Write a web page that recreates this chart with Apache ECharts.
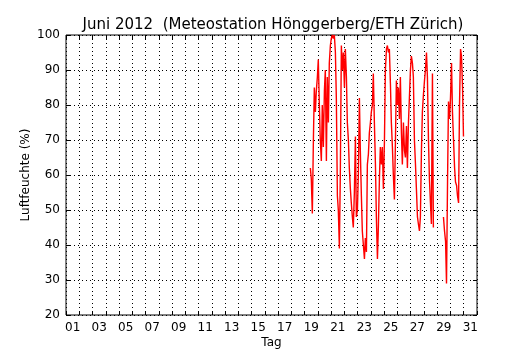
<!DOCTYPE html>
<html>
<head>
<meta charset="utf-8">
<script src="https://cdn.jsdelivr.net/npm/echarts@6/dist/echarts.min.js"></script>
<style>html,body{margin:0;padding:0;background:#fff}#c{width:530px;height:350px}</style>
</head>
<body>
<div id="c"></div>
<script>
// Day labels (June 2012)
var tagLabels = ['01','02','03','04','05','06','07','08','09','10','11','12','13','14','15','16','17','18','19','20','21','22','23','24','25','26','27','28','29','30','31'];
var yTicks = [20,30,40,50,60,70,80,90,100];
// time in days (1 = 1 June 00:00) and relative humidity (%)
var tag = [19.43,19.50,19.58,19.66,19.73,19.81,19.88,19.96,20.03,20.11,20.18,20.26,20.33,20.41,20.49,20.56,20.64,20.71,20.79,20.86,20.94,21.01,21.09,21.16,21.24,21.32,21.39,21.47,21.54,21.62,21.69,21.77,21.84,21.92,22.00,22.07,22.15,22.22,22.30,22.37,22.45,22.52,22.60,22.67,22.75,22.83,22.90,22.98,23.05,23.13,23.20,23.28,23.35,23.43,23.51,23.58,23.66,23.73,23.81,23.88,23.96,24.03,24.11,24.18,24.26,24.34,24.41,24.49,24.56,24.64,24.71,24.79,24.86,24.94,25.02,25.09,25.17,25.24,25.32,25.39,25.47,25.54,25.62,25.69,25.77,25.85,25.92,26.00,26.07,26.15,26.22,26.30,26.37,26.45,26.53,26.60,26.68,26.75,26.83,26.90,26.98,27.05,27.13,27.20,27.28,27.36,27.43,27.51,27.58,27.66,27.73,27.81,27.88,27.96,28.04,28.11,28.19,28.26,28.34,28.41,28.49,28.56,28.64,28.71,29.10,29.47,29.55,29.63,29.70,29.78,29.85,29.93,30.00,30.08,30.15,30.23,30.31,30.38,30.46,30.53,30.61,30.68,30.76,30.83,30.91,30.98];
var feuchte = [62,59,49,70,85,78,84,88,93,80,70,64,80,68,84,90,64,88,75,92,97,99,100,99,100,95,82,54,50,39,60,97,90,95,85,96,88,75,70,62,56,52,48,45,55,71,48,50,60,82,67,54,44,40,36,42,38,63,66,72,75,78,80,89,75,63,48,36,45,59,68,63,68,56,70,90,96,97,95,96,86,75,68,60,53,70,87,80,85,76,88,72,63,75,67,65,74,62,75,82,90,94,92,88,70,63,56,48,46,44,48,67,78,83,87,90,95,88,70,59,52,46,89,45,null,48,44,41,29,59,81,76,82,92,78,70,62,58,57,54,52,80,96,94,85,71];

var seriesData = tag.map(function(t,i){ return [t, feuchte[i]===null ? '-' : feuchte[i]]; });

var chart = echarts.init(document.getElementById('c'), null, {renderer:'canvas'});
var font = 'DejaVu Sans';
var dotted = {color:'#000', width:1, type:[1,3]};
chart.setOption({
  animation:false,
  backgroundColor:'#fff',
  title:{text:'Juni 2012  (Meteostation Hönggerberg/ETH Zürich)', left:268, top:13, textAlign:'center',
    textStyle:{fontFamily:font, fontSize:15, fontWeight:'normal', color:'#000'}},
  grid:{left:66, right:53, top:35, bottom:35, containLabel:false, outerBoundsMode:'none',
    show:true, borderColor:'#000', borderWidth:1, backgroundColor:'transparent'},
  xAxis:[
    {type:'category', data:tagLabels, boundaryGap:true, position:'bottom',
     axisLine:{show:false},
     axisTick:{show:true, inside:true, length:4, interval:0, lineStyle:{color:'#000'}},
     axisLabel:{interval:1, color:'#000', fontFamily:font, fontSize:12, margin:7},
     splitLine:{show:true, interval:0, lineStyle:dotted},
     name:'Tag', nameLocation:'middle', nameGap:22, nameMoveOverlap:false,
     nameTextStyle:{fontFamily:font, fontSize:12, color:'#000'}},
    {type:'category', data:tagLabels, boundaryGap:true, position:'top',
     axisLine:{show:false},
     axisTick:{show:true, inside:true, length:4, interval:0, lineStyle:{color:'#000'}},
     axisLabel:{show:false}, splitLine:{show:false}},
    {type:'value', min:1, max:32, show:false}
  ],
  yAxis:[
    {type:'value', min:yTicks[0], max:yTicks[yTicks.length-1], interval:10, position:'left',
     axisLine:{show:false},
     axisTick:{show:true, inside:true, length:4, lineStyle:{color:'#000'}},
     axisLabel:{color:'#000', fontFamily:font, fontSize:12, margin:6},
     splitLine:{show:true, lineStyle:dotted},
     name:'Luftfeuchte (%)', nameLocation:'middle', nameGap:34, nameRotate:90, nameMoveOverlap:false,
     nameTextStyle:{fontFamily:font, fontSize:12, color:'#000'}},
    {type:'value', min:yTicks[0], max:yTicks[yTicks.length-1], interval:10, position:'right',
     axisLine:{show:false},
     axisTick:{show:true, inside:true, length:4, lineStyle:{color:'#000'}},
     axisLabel:{show:false}, splitLine:{show:false}}
  ],
  series:[{type:'line', xAxisIndex:2, yAxisIndex:0, data:seriesData, showSymbol:false, symbol:'none',
    connectNulls:false, lineStyle:{color:'#ff0000', width:1.4}, itemStyle:{color:'#ff0000'}}]
});
</script>
</body>
</html>
